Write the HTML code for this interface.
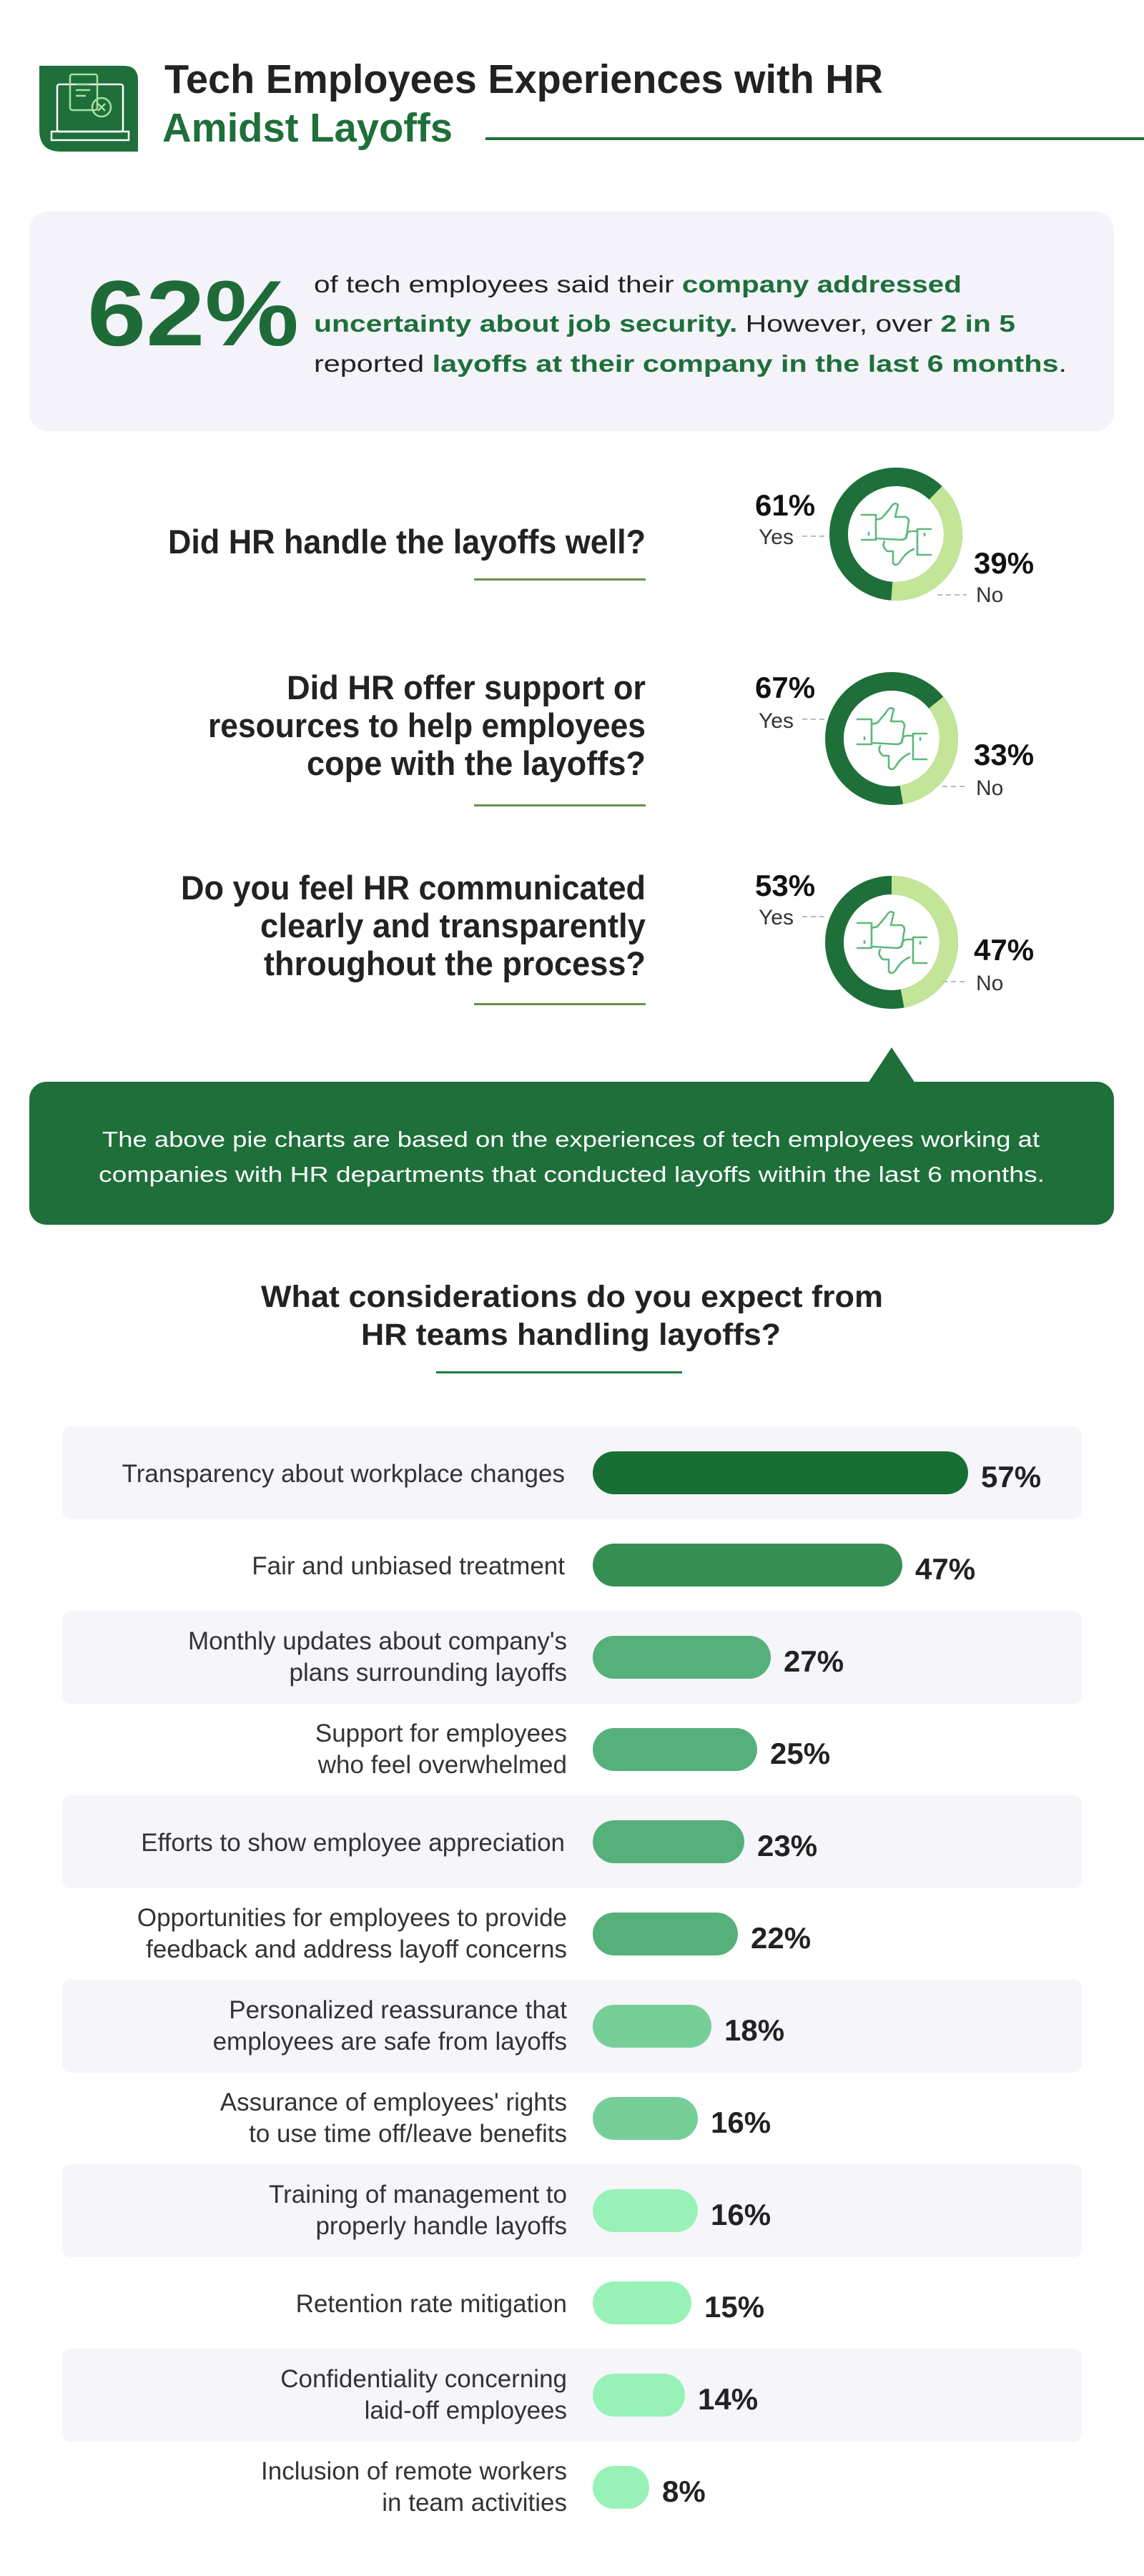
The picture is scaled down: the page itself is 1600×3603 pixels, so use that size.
<!DOCTYPE html>
<html><head><meta charset="utf-8"><style>
html,body{margin:0;padding:0;background:#fff}
svg{display:block}
.b{font-family:"Liberation Sans Narrow","Liberation Sans",sans-serif;font-weight:bold}
.l{font-family:"Liberation Sans",sans-serif;font-weight:normal}
</style></head><body>
<svg width="1600" height="3603" viewBox="0 0 1600 3603" xmlns="http://www.w3.org/2000/svg">
<rect width="1600" height="3603" fill="#fff"/>
<!-- header icon -->
<path d="M55,92 H173 Q193,92 193,112 V212 H85 Q55,212 55,182 Z" fill="#1e6f3a"/>
<g fill="none" stroke="#fff" stroke-width="2.5">
<rect x="80" y="118" width="92" height="66" rx="3"/>
<path d="M72,184 H180 V196 H72 Z"/>
</g>
<g fill="none" stroke="#a8e0a0" stroke-width="2.5">
<rect x="98" y="104" width="38" height="50" rx="3"/>
<path d="M106,118 H126 M106,126 H126 M106,134 H120"/>
<circle cx="142" cy="150" r="13"/>
<path d="M137,145 L147,155 M147,145 L137,155"/>
</g>
<!-- title -->
<text class="b" x="230" y="130" font-size="57" fill="#222" textLength="1005" lengthAdjust="spacingAndGlyphs">Tech Employees Experiences with HR</text>
<text class="b" x="227" y="198" font-size="57" fill="#1e6f3a" textLength="406" lengthAdjust="spacingAndGlyphs">Amidst Layoffs</text>
<rect x="679" y="192" width="921" height="4" fill="#1e6f3a"/>
<!-- stat box -->
<rect x="41" y="296" width="1517" height="307" rx="26" fill="#f3f3f9"/>
<text class="b" x="122" y="483" font-size="130" fill="#1e6b38" textLength="296" lengthAdjust="spacingAndGlyphs">62%</text>
<text class="l" x="439" y="409" font-size="33" fill="#222" textLength="906" lengthAdjust="spacingAndGlyphs">of tech employees said their <tspan class="b" fill="#1e6f3a">company addressed</tspan></text>
<text class="l" x="439" y="464" font-size="33" fill="#222" textLength="981" lengthAdjust="spacingAndGlyphs"><tspan class="b" fill="#1e6f3a">uncertainty about job security.</tspan> However, over <tspan class="b" fill="#1e6f3a">2 in 5</tspan></text>
<text class="l" x="439" y="520" font-size="33" fill="#222" textLength="1053" lengthAdjust="spacingAndGlyphs">reported <tspan class="b" fill="#1e6f3a">layoffs at their company in the last 6 months</tspan>.</text>

<!-- questions -->
<g class="b" font-size="47" fill="#222" text-anchor="end">
<text x="903" y="774" textLength="668" lengthAdjust="spacingAndGlyphs">Did HR handle the layoffs well?</text>
<text x="903" y="978" textLength="502" lengthAdjust="spacingAndGlyphs">Did HR offer support or</text>
<text x="903" y="1031" textLength="612" lengthAdjust="spacingAndGlyphs">resources to help employees</text>
<text x="903" y="1084" textLength="474" lengthAdjust="spacingAndGlyphs">cope with the layoffs?</text>
<text x="903" y="1258" textLength="650" lengthAdjust="spacingAndGlyphs">Do you feel HR communicated</text>
<text x="903" y="1311" textLength="539" lengthAdjust="spacingAndGlyphs">clearly and transparently</text>
<text x="903" y="1364" textLength="534" lengthAdjust="spacingAndGlyphs">throughout the process?</text>
</g>
<g fill="#6b8f4a">
<rect x="663" y="809" width="240" height="3"/>
<rect x="663" y="1125" width="240" height="3"/>
<rect x="663" y="1403" width="240" height="3"/>
</g>

<!-- donut template -->
<defs>
<g id="ic" fill="none" stroke="#5cb87a" stroke-width="2.6" stroke-linecap="round" stroke-linejoin="round">
<path d="M-48,-27 H-28 V8 H-48"/><path d="M-38,-2 V1"/>
<path d="M-28,-20 L-20,-22 L-8,-36 Q-3,-46 3,-41 L-1,-24 L14,-24 Q20,-21 17,-13 L15,3 Q13,8 7,8 L-28,6"/>
<path d="M49,-7 H30 V29 H49"/><path d="M40,-1 V2"/>
<path d="M30,-4 H22 Q14,-4 14,6 M-16,10 Q-20,18 -12,24 L-4,24 L-4,40 Q-1,46 5,40 Q13,26 25,21"/>
</g>
</defs>
<g>
<circle cx="1253" cy="747" r="80" fill="none" stroke="#1e6f3a" stroke-width="26"/>
<circle cx="1253" cy="747" r="80" fill="none" stroke="#c3e597" stroke-width="26" stroke-dasharray="195.5 600" transform="rotate(-46 1253 747)"/>
<use href="#ic" transform="translate(1253 747)"/>
</g>
<g>
<circle cx="1247" cy="1033" r="80" fill="none" stroke="#1e6f3a" stroke-width="26"/>
<circle cx="1247" cy="1033" r="80" fill="none" stroke="#c3e597" stroke-width="26" stroke-dasharray="166.2 600" transform="rotate(-39 1247 1033)"/>
<use href="#ic" transform="translate(1247 1033)"/>
</g>
<g>
<circle cx="1247" cy="1318" r="80" fill="none" stroke="#1e6f3a" stroke-width="26"/>
<circle cx="1247" cy="1318" r="80" fill="none" stroke="#c3e597" stroke-width="26" stroke-dasharray="236 600" transform="rotate(-90 1247 1318)"/>
<use href="#ic" transform="translate(1247 1318)"/>
</g>
<!-- donut labels -->
<g class="b" font-size="42" fill="#111">
<text x="1056" y="721">61%</text><text x="1362" y="802">39%</text>
<text x="1056" y="976">67%</text><text x="1362" y="1070">33%</text>
<text x="1056" y="1253">53%</text><text x="1362" y="1343">47%</text>
</g>
<g class="l" font-size="30" fill="#333">
<text x="1061" y="761">Yes</text><text x="1365" y="842">No</text>
<text x="1061" y="1018">Yes</text><text x="1365" y="1112">No</text>
<text x="1061" y="1293">Yes</text><text x="1365" y="1385">No</text>
</g>
<g stroke="#bbb" stroke-width="2" stroke-dasharray="7 5">
<path d="M1122,750 H1153 M1311,832 H1352"/>
<path d="M1122,1006 H1153 M1318,1100 H1352"/>
<path d="M1122,1282 H1153 M1318,1373 H1352"/>
</g>

<!-- callout -->
<rect x="41" y="1513" width="1517" height="200" rx="24" fill="#1e6f3a"/>
<path d="M1214,1515 L1247,1465 L1280,1515 Z" fill="#1e6f3a"/>
<text class="l" x="143" y="1604" font-size="31" fill="#fff" textLength="1311" lengthAdjust="spacingAndGlyphs">The above pie charts are based on the experiences of tech employees working at</text>
<text class="l" x="138" y="1653" font-size="31" fill="#fff" textLength="1323" lengthAdjust="spacingAndGlyphs">companies with HR departments that conducted layoffs within the last 6 months.</text>

<!-- section title -->
<text class="b" x="365" y="1828" font-size="43" fill="#222" textLength="870" lengthAdjust="spacingAndGlyphs">What considerations do you expect from</text>
<text class="b" x="505" y="1881" font-size="43" fill="#222" textLength="587" lengthAdjust="spacingAndGlyphs">HR teams handling layoffs?</text>
<rect x="610" y="1918" width="344" height="3" fill="#1e7a3e"/>

<!-- row backgrounds -->
<g fill="#f5f5fa">
<rect x="87" y="1995" width="1426" height="130" rx="12"/>
<rect x="87" y="2253" width="1426" height="130" rx="12"/>
<rect x="87" y="2511" width="1426" height="130" rx="12"/>
<rect x="87" y="2769" width="1426" height="130" rx="12"/>
<rect x="87" y="3027" width="1426" height="130" rx="12"/>
<rect x="87" y="3285" width="1426" height="130" rx="12"/>
</g>
<!-- bars (center = 2060 + i*129) -->
<g>
<rect x="829" y="2030" width="525" height="60" rx="30" fill="#186f34"/>
<rect x="829" y="2159" width="433" height="60" rx="30" fill="#368f52"/>
<rect x="829" y="2288" width="249" height="60" rx="30" fill="#56b07a"/>
<rect x="829" y="2417" width="230" height="60" rx="30" fill="#56b07a"/>
<rect x="829" y="2546" width="212" height="60" rx="30" fill="#56b07a"/>
<rect x="829" y="2675" width="203" height="60" rx="30" fill="#56b07a"/>
<rect x="829" y="2804" width="166" height="60" rx="30" fill="#77cf98"/>
<rect x="829" y="2933" width="147" height="60" rx="30" fill="#77cf98"/>
<rect x="829" y="3062" width="147" height="60" rx="30" fill="#98f2b8"/>
<rect x="829" y="3191" width="138" height="60" rx="30" fill="#98f2b8"/>
<rect x="829" y="3320" width="129" height="60" rx="30" fill="#98f2b8"/>
<rect x="829" y="3449" width="79" height="60" rx="30" fill="#98f2b8"/>
</g>
<g class="b" font-size="42" fill="#222">
<text x="1372" y="2080">57%</text>
<text x="1280" y="2209">47%</text>
<text x="1096" y="2338">27%</text>
<text x="1077" y="2467">25%</text>
<text x="1059" y="2596">23%</text>
<text x="1050" y="2725">22%</text>
<text x="1013" y="2854">18%</text>
<text x="994" y="2983">16%</text>
<text x="994" y="3112">16%</text>
<text x="985" y="3241">15%</text>
<text x="976" y="3370">14%</text>
<text x="926" y="3499">8%</text>
</g>
<g class="l" font-size="35" fill="#333" text-anchor="end">
<text x="790" y="2073">Transparency about workplace changes</text>
<text x="790" y="2202">Fair and unbiased treatment</text>
<text x="793" y="2307">Monthly updates about company's</text>
<text x="793" y="2351">plans surrounding layoffs</text>
<text x="793" y="2436">Support for employees</text>
<text x="793" y="2480">who feel overwhelmed</text>
<text x="790" y="2589">Efforts to show employee appreciation</text>
<text x="793" y="2694">Opportunities for employees to provide</text>
<text x="793" y="2738">feedback and address layoff concerns</text>
<text x="793" y="2823">Personalized reassurance that</text>
<text x="793" y="2867">employees are safe from layoffs</text>
<text x="793" y="2952">Assurance of employees' rights</text>
<text x="793" y="2996">to use time off/leave benefits</text>
<text x="793" y="3081">Training of management to</text>
<text x="793" y="3125">properly handle layoffs</text>
<text x="793" y="3234">Retention rate mitigation</text>
<text x="793" y="3339">Confidentiality concerning</text>
<text x="793" y="3383">laid-off employees</text>
<text x="793" y="3468">Inclusion of remote workers</text>
<text x="793" y="3512">in team activities</text>
</g>
</svg>
</body></html>
